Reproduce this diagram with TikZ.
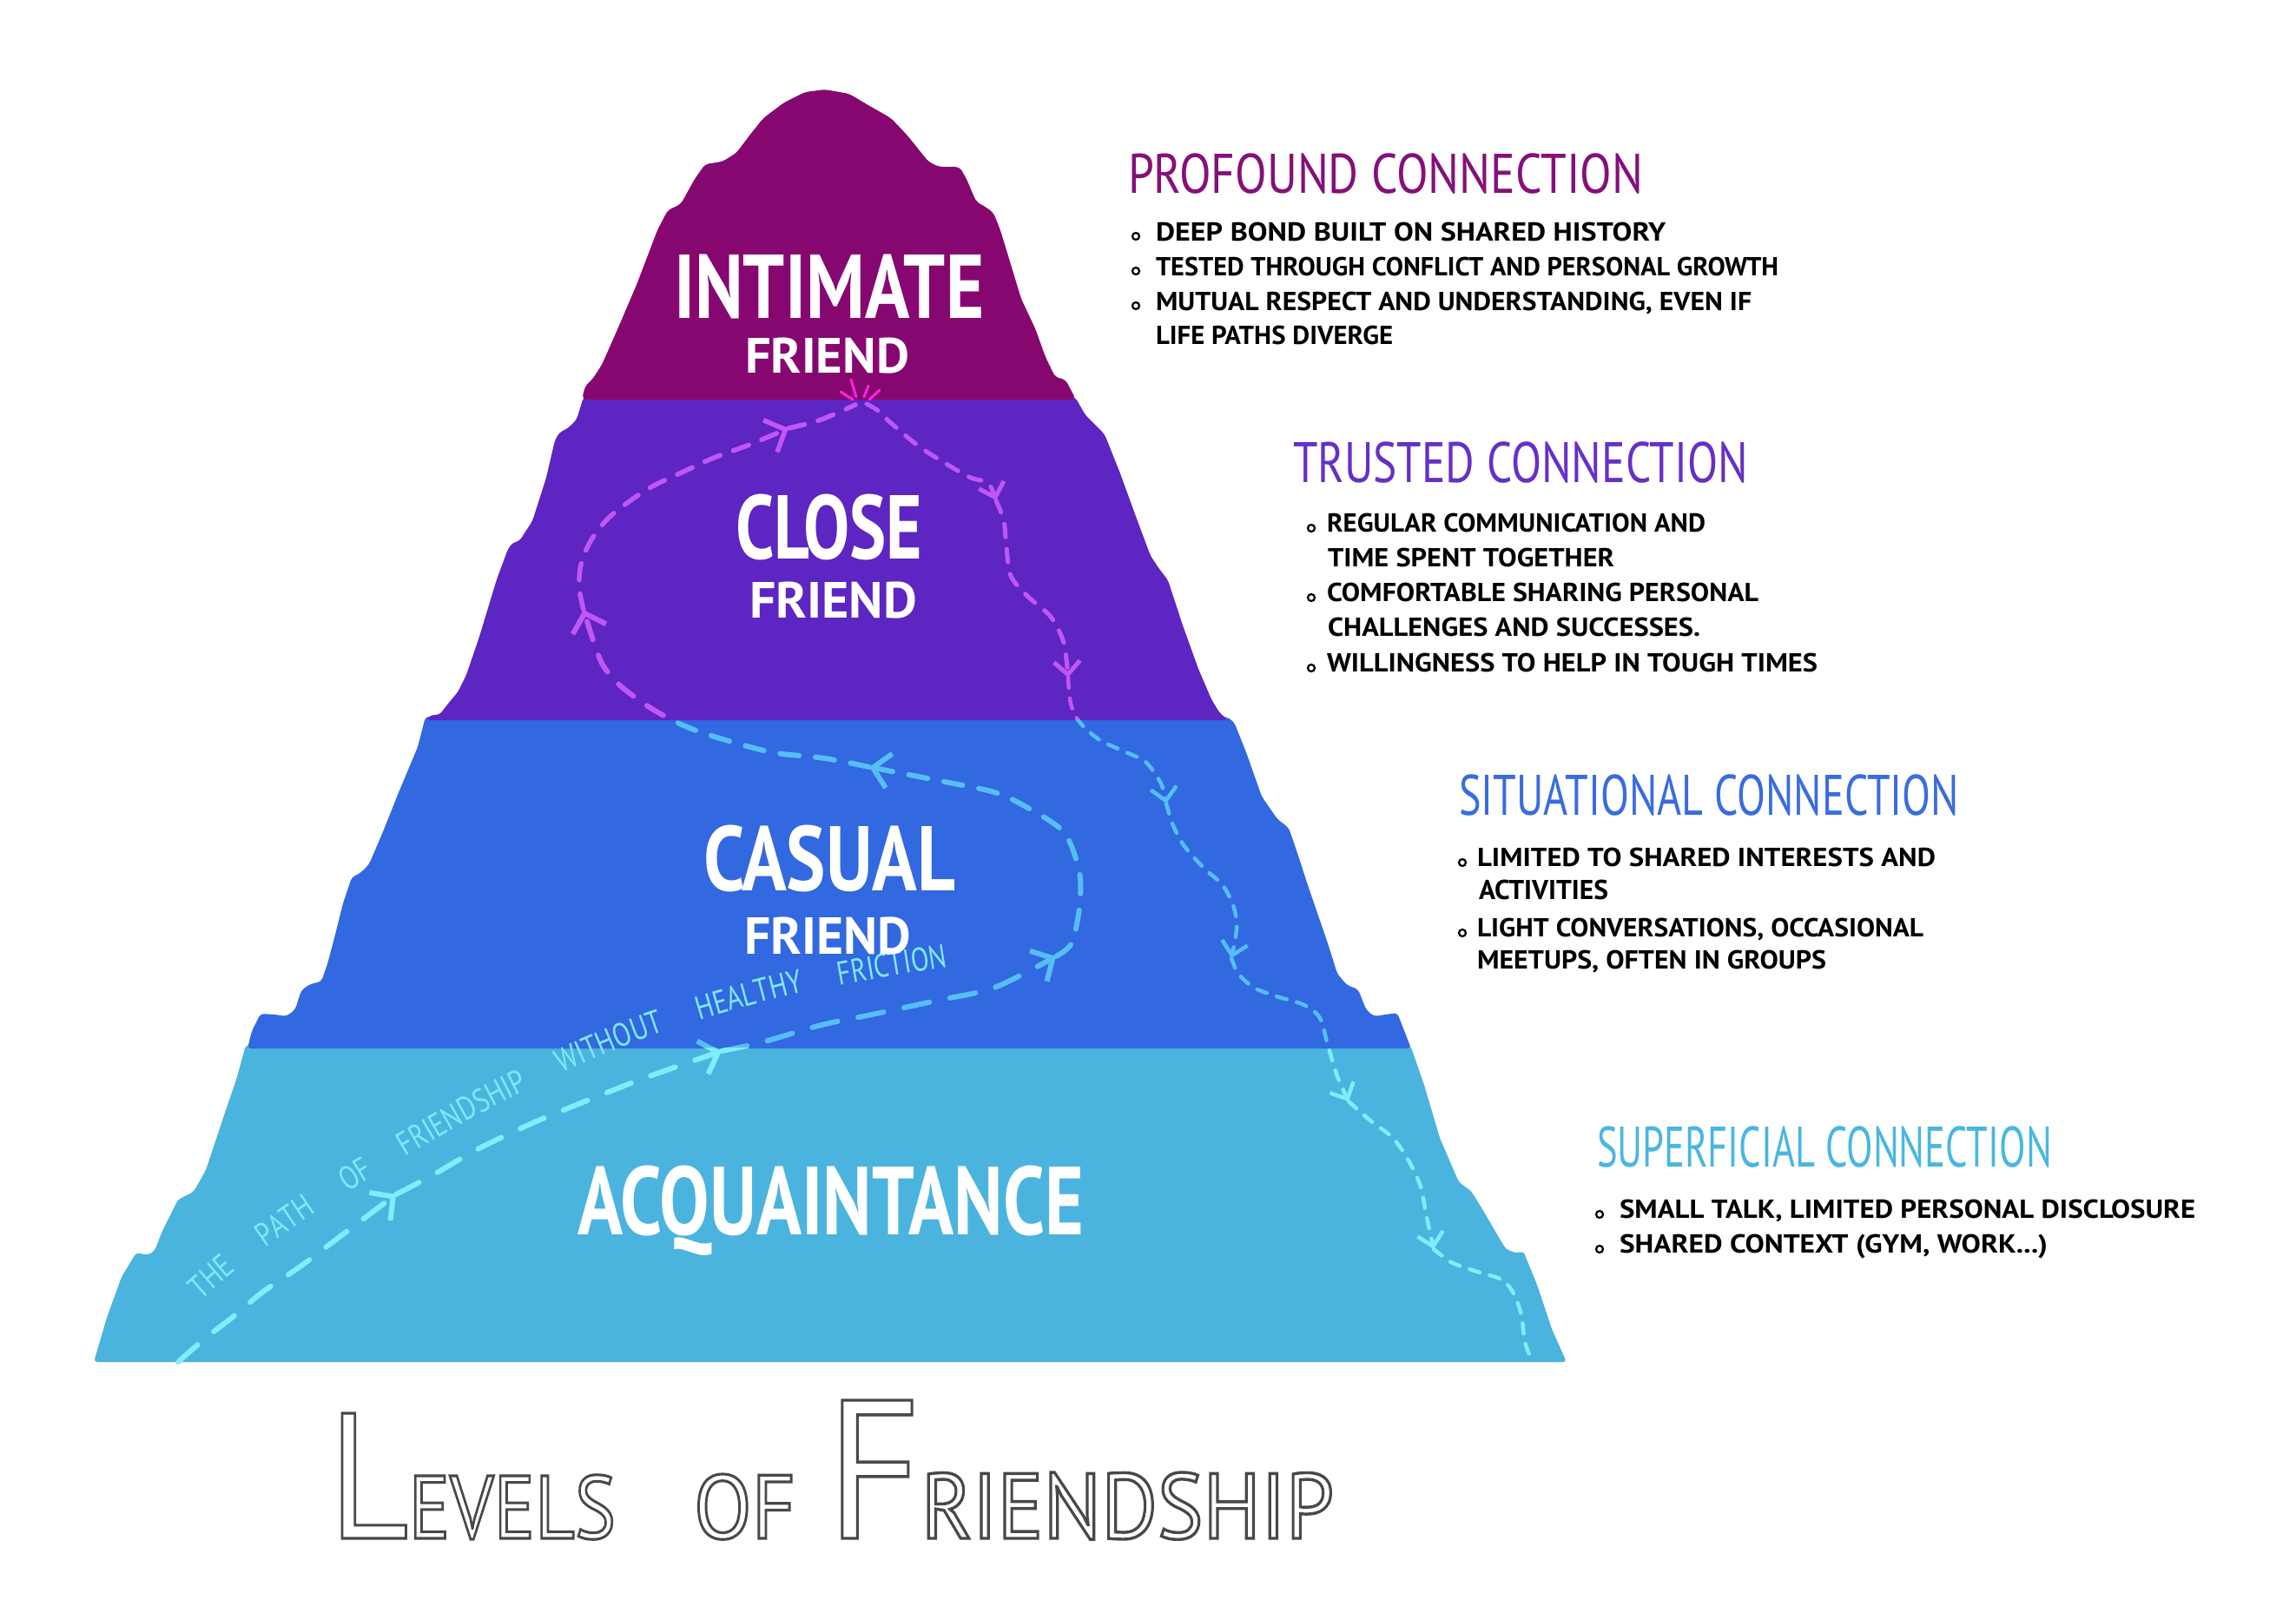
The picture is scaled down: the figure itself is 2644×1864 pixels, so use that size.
\documentclass[tikz,border=0pt]{standalone}
\usepackage{fontspec}
\usepackage{graphicx}
\setmainfont{PT Sans}
\newfontfamily\handpath[FakeStretch=0.8]{PT Sans}
\usetikzlibrary{arrows.meta,decorations.text}

\definecolor{cInt}{HTML}{870771}
\definecolor{cClose}{HTML}{5D25C2}
\definecolor{cCas}{HTML}{3268E0}
\definecolor{cAcq}{HTML}{4AB4DE}
\definecolor{hInt}{HTML}{85107A}
\definecolor{hClose}{HTML}{6530C8}
\definecolor{hCas}{HTML}{3A6CE0}
\definecolor{hAcq}{HTML}{4AB6E2}
\definecolor{pViolet}{HTML}{C057F5}
\definecolor{pBlue}{HTML}{55BEF5}
\definecolor{pCyan}{HTML}{7EEEFC}
\definecolor{sparkc}{HTML}{FF22DD}
\definecolor{lblc}{HTML}{7FE8F8}
\definecolor{ttlgray}{HTML}{484848}

\newcommand{\fitbox}[3]{\resizebox{#1pt}{#2pt}{\smash{#3}\vphantom{X}}}
\newcommand{\outl}[1]{\special{pdf:literal direct 1 Tr 1.5 w}#1\special{pdf:literal direct 0 Tr}}

\tikzset{
  lbl/.style={anchor=base west, inner sep=0pt, outer sep=0pt, text=white, font=\bfseries},
  head/.style={anchor=base west, inner sep=0pt, outer sep=0pt},
  bul/.style={anchor=base west, inner sep=0pt, outer sep=0pt, text=black, font=\bfseries},
  bulletdot/.style={circle, draw=black, line width=2.2pt, minimum size=8pt, inner sep=0pt},
  ttl/.style={anchor=base west, inner sep=0pt, outer sep=0pt, text=ttlgray},
  pA/.style={draw=pathc, line width=6pt, line cap=round, dash pattern=on 30pt off 24pt},
  pD/.style={draw=pathc, line width=6pt, line cap=round, dash pattern=on 22pt off 19pt},
  pF/.style={draw=pathc, line width=5.5pt, line cap=round, dash pattern=on 19pt off 16pt},
  pH/.style={draw=pathc, line width=5pt, line cap=round, dash pattern=on 15pt off 14pt},
  pJ/.style={draw=pathc, line width=4.5pt, line cap=round, dash pattern=on 12pt off 12pt},
  tipbig/.style={-{Straight Barb[length=19pt,width=40pt]}},
  tipsmall/.style={-{Straight Barb[length=15pt,width=30pt]}},
  sparkline/.style={draw=sparkc, line width=3pt, line cap=round}
}

\newcommand{\friendpath}{%
  \draw[pA,tipbig] plot[smooth] coordinates {(s0) (237,1540) (267,1517) (303,1487) (343,1460) (383,1430) (a1)};
  \draw[pA,tipbig] plot[smooth] coordinates {(a1) (498,1353) (550,1323) (613,1293) (676,1267) (745,1240) (a2)};
  \draw[pA,tipbig] plot[smooth] coordinates {(a2) (877,1200) (946,1180) (1004,1168) (1078,1152) (1145,1137) (a3)};
  \draw[pD,tipbig] plot[smooth] coordinates {(a3) (1234,1086) (1243,1045) (1243,1004) (1225,958) (1180,928) (1145,912) (1088,900) (a4)};
  \draw[pD,tipbig] plot[smooth] coordinates {(a4) (950,873) (894,867) (853,857) (807,843) (776,830) (746,813) (715,790) (695,767) (684,740) (a5)};
  \draw[pF,tipbig] plot[smooth] coordinates {(a5) (667,677) (669,650) (680,623) (700,597) (725,577) (751,560) (787,543) (822,527) (863,512) (a6)};
  \draw[pF] plot[smooth] coordinates {(a6) (940,485) (965,475) (pk1)};
  \draw[pH,tipsmall] plot[smooth] coordinates {(pk2) (1010,472) (1026,487) (1057,513) (1088,533) (1118,550) (1138,556) (a7)};
  \draw[pH,tipsmall] plot[smooth] coordinates {(a7) (1156,600) (1159,630) (1164,663) (1184,687) (1210,710) (1225,740) (a8)};
  \draw[pJ,tipsmall] plot[smooth] coordinates {(a8) (1233,810) (1243,831) (1265,851) (1292,864) (1319,877) (1337,902) (a9)};
  \draw[pJ,tipsmall] plot[smooth] coordinates {(a9) (1350,948) (1363,973) (1386,999) (1408,1019) (1421,1045) (1424,1070) (a10)};
  \draw[pJ,tipsmall] plot[smooth] coordinates {(a10) (1426,1121) (1444,1137) (1470,1147) (1502,1157) (1520,1172) (1529,1203) (1540,1239) (a11)};
  \draw[pJ,tipsmall] plot[smooth] coordinates {(a11) (1578,1290) (1604,1310) (1622,1336) (1636,1366) (1642,1397) (a12)};
  \draw[pJ] plot[smooth] coordinates {(a12) (1671,1453) (1698,1463) (1729,1473) (1743,1489) (1752,1514) (1756,1545) (e0)};
}

\begin{document}
\begin{tikzpicture}[x=1pt,y=-1pt]
\useasboundingbox (0,0) rectangle (2644,1864);
\fill[white] (0,0) rectangle (2644,1864);

% ---------- pyramid layers ----------
\fill[cAcq, rounded corners=4pt] (283,1203) -- (273,1240) -- (257,1287) -- (237,1347) -- (223,1372) -- (213,1377) -- (205,1381) -- (187,1417) -- (178,1440) -- (170,1445) -- (157,1442) -- (140,1470) -- (123,1517) -- (108,1568) -- (1804,1568) -- (1787,1530) -- (1770,1479) -- (1754,1440) -- (1747,1443) -- (1734,1438) -- (1707,1392) -- (1694,1371) -- (1680,1361) -- (1658,1310) -- (1640,1249) -- (1624,1203) -- cycle;
\fill[cCas, rounded corners=4pt] (490,825) -- (481,860) -- (460,910) -- (440,960) -- (425,995) -- (415,1005) -- (405,1010) -- (395,1040) -- (385,1080) -- (377,1110) -- (370,1130) -- (357,1133) -- (347,1140) -- (340,1162) -- (330,1170) -- (317,1168) -- (300,1167) -- (290,1187) -- (285,1207) -- (1625,1207) -- (1609,1166) -- (1582,1170) -- (1573,1162) -- (1564,1139) -- (1551,1134) -- (1540,1121) -- (1529,1086) -- (1506,1019) -- (1493,979) -- (1484,953) -- (1471,943) -- (1453,917) -- (1435,866) -- (1421,831) -- (1412,825) -- cycle;
\fill[cClose, rounded corners=4pt] (672,457) -- (664,483) -- (654,493) -- (644,498) -- (639,507) -- (629,550) -- (613,600) -- (598,623) -- (590,625) -- (585,632) -- (572,667) -- (552,733) -- (537,777) -- (527,797) -- (516,810) -- (506,823) -- (496,823) -- (491,829) -- (1414,829) -- (1404,820) -- (1395,805) -- (1380,770) -- (1362,720) -- (1345,668) -- (1335,655) -- (1325,640) -- (1310,600) -- (1290,545) -- (1272,500) -- (1262,490) -- (1250,478) -- (1238,457) -- cycle;
\fill[cInt, rounded corners=5pt] (670,460) -- (674,444) -- (682,437) -- (693,420) -- (709,384) -- (733,328) -- (757,265) -- (769,242) -- (784,235) -- (800,206) -- (812,189) -- (832,186) -- (848,176) -- (863,156) -- (879,136) -- (903,118) -- (927,106) -- (950,103) -- (978,108) -- (998,120) -- (1026,136) -- (1045,156) -- (1069,186) -- (1081,192) -- (1105,192) -- (1113,206) -- (1124,232) -- (1136,239) -- (1144,245) -- (1152,265) -- (1176,344) -- (1192,378) -- (1204,411) -- (1215,434) -- (1227,437) -- (1239,460) -- cycle;

% ---------- path of friendship ----------
\coordinate (s0) at (205,1568);
\coordinate (a1) at (456,1375);
\coordinate (a2) at (831,1210);
\coordinate (a3) at (1216,1101);
\coordinate (a4) at (1001,883);
\coordinate (a5) at (672,702);
\coordinate (a6) at (908,493);
\coordinate (pk1) at (985,466);
\coordinate (pk2) at (998,465);
\coordinate (a7) at (1147,576);
\coordinate (a8) at (1230,780);
\coordinate (a9) at (1343,925);
\coordinate (a10) at (1418,1103);
\coordinate (a11) at (1553,1268);
\coordinate (a12) at (1651,1438);
\coordinate (e0) at (1765,1568);

\begin{scope}
  \clip (0,0) rectangle (2644,828);
  \colorlet{pathc}{pViolet}
  \friendpath
\end{scope}
\begin{scope}
  \clip (0,828) rectangle (2644,1206);
  \colorlet{pathc}{pBlue}
  \friendpath
\end{scope}
\begin{scope}
  \clip (0,1206) rectangle (2644,1864);
  \colorlet{pathc}{pCyan}
  \friendpath
\end{scope}

% spark at the summit
\draw[sparkline] (986,457) -- (980,437);
\draw[sparkline] (982,460) -- (968,451);
\draw[sparkline] (995,457) -- (1000,444);
\draw[sparkline] (1001,460) -- (1013,449);

% label along the path
\path[decorate, decoration={text along path, text color=lblc,
   text={|\handpath\fontsize{38}{38}\selectfont|THE PATH OF FRIENDSHIP WITHOUT HEALTHY FRICTION},
   text align=fit to path stretching spaces}]
   plot[smooth] coordinates {(232,1497) (300,1440) (420,1360) (580,1268) (740,1196) (912,1145) (1092,1113)};

% ---------- level labels ----------
\node[lbl] (intimate) at (776,366) {\fitbox{357}{73}{INTIMATE}};
\node[lbl] (intfriend) at (858,429) {\fitbox{189}{40}{FRIEND}};
\node[lbl] (close) at (847,643) {\fitbox{215}{73}{CLOSE}};
\node[lbl] (closefriend) at (863,711) {\fitbox{193}{41}{FRIEND}};
\node[lbl] (casual) at (810,1025) {\fitbox{290}{74}{CASUAL}};
\node[lbl] (casfriend) at (857,1098) {\fitbox{192}{42}{FRIEND}};
\node[lbl] (acq) at (665,1421) {\fitbox{583}{78}{ACQUAINTANCE}};

% ---------- descriptions ----------
\node[head, text=hInt] (h1) at (1299,222) {\fitbox{593}{45}{PROFOUND CONNECTION}};
\node[bulletdot] (d11) at (1308,272) {};
\node[bul] (t11) at (1331,277) {\fitbox{587}{21}{DEEP BOND BUILT ON SHARED HISTORY}};
\node[bulletdot] (d12) at (1308,312) {};
\node[bul] (t12) at (1331,317) {\fitbox{717}{21}{TESTED THROUGH CONFLICT AND PERSONAL GROWTH}};
\node[bulletdot] (d13) at (1308,352) {};
\node[bul] (t13) at (1331,357) {\fitbox{686}{21}{MUTUAL RESPECT AND UNDERSTANDING, EVEN IF}};
\node[bul] (t14) at (1331,396) {\fitbox{273}{21}{LIFE PATHS DIVERGE}};

\node[head, text=hClose] (h2) at (1489,555) {\fitbox{524}{46}{TRUSTED CONNECTION}};
\node[bulletdot] (d21) at (1510,608) {};
\node[bul] (t21) at (1528,612) {\fitbox{436}{21}{REGULAR COMMUNICATION AND}};
\node[bul] (t22) at (1529,652) {\fitbox{330}{21}{TIME SPENT TOGETHER}};
\node[bulletdot] (d23) at (1510,688) {};
\node[bul] (t23) at (1528,692) {\fitbox{497}{21}{COMFORTABLE SHARING PERSONAL}};
\node[bul] (t24) at (1529,732) {\fitbox{429}{21}{CHALLENGES AND SUCCESSES.}};
\node[bulletdot] (d25) at (1510,769) {};
\node[bul] (t25) at (1528,773) {\fitbox{565}{21}{WILLINGNESS TO HELP IN TOUGH TIMES}};

\node[head, text=hCas] (h3) at (1680,938) {\fitbox{576}{46}{SITUATIONAL CONNECTION}};
\node[bulletdot] (d31) at (1684,993) {};
\node[bul] (t31) at (1701,997) {\fitbox{528}{21}{LIMITED TO SHARED INTERESTS AND}};
\node[bul] (t32) at (1703,1035) {\fitbox{149}{22}{ACTIVITIES}};
\node[bulletdot] (d33) at (1684,1074) {};
\node[bul] (t33) at (1701,1078) {\fitbox{514}{21}{LIGHT CONVERSATIONS, OCCASIONAL}};
\node[bul] (t34) at (1701,1115) {\fitbox{402}{21}{MEETUPS, OFTEN IN GROUPS}};

\node[head, text=hAcq] (h4) at (1839,1343) {\fitbox{524}{46}{SUPERFICIAL CONNECTION}};
\node[bulletdot] (d41) at (1842,1398) {};
\node[bul] (t41) at (1865,1402) {\fitbox{663}{21}{SMALL TALK, LIMITED PERSONAL DISCLOSURE}};
\node[bulletdot] (d42) at (1842,1438) {};
\node[bul] (t42) at (1865,1442) {\fitbox{493}{21}{SHARED CONTEXT (GYM, WORK...)}};

% ---------- title ----------
\node[ttl] (title1) at (379,1771) {\resizebox{330pt}{144pt}{\outl{\fontsize{100}{100}\selectfont L\fontsize{50}{50}\selectfont EVELS}}};
\node[ttl] (title2) at (799,1771) {\resizebox{117pt}{74pt}{\outl{\fontsize{50}{50}\selectfont OF}}};
\node[ttl] (title3) at (952,1771) {\resizebox{584pt}{159pt}{\outl{\fontsize{100}{100}\selectfont F\fontsize{47}{47}\selectfont RIENDSHIP}}};
\end{tikzpicture}
\end{document}
